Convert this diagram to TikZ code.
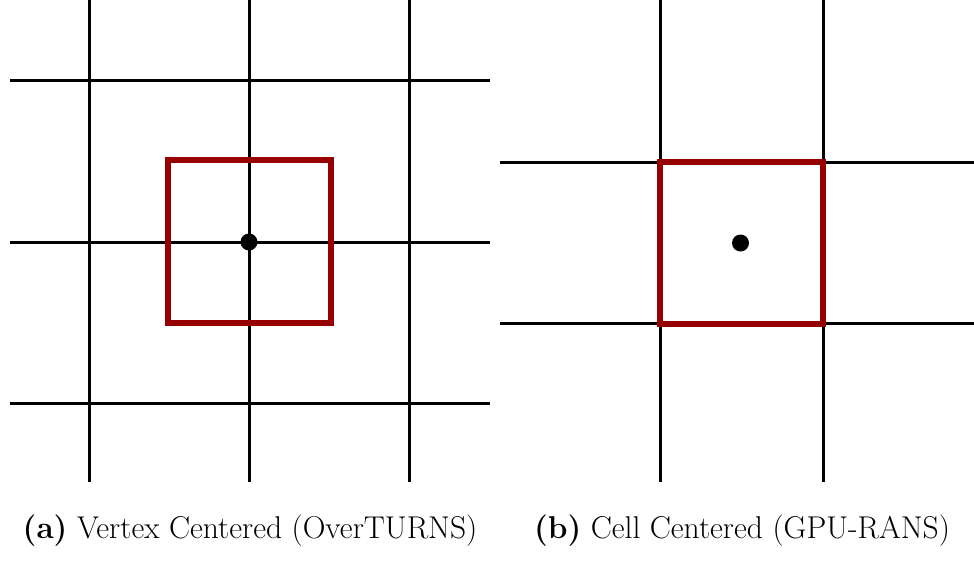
\documentclass[tikz,border=0pt]{standalone}
\usepackage{xcolor}
\definecolor{cvred}{RGB}{150,0,0}
\tikzset{
  gridline/.style={line width=3pt, black},
  cvbox/.style={line width=6pt, cvred, line join=miter},
  nodedot/.style={fill=black, draw=none},
  capt/.style={anchor=base, inner sep=0pt, font=\fontsize{31.5}{38}\selectfont}
}
\begin{document}
\begin{tikzpicture}[x=1pt,y=-1pt]
  \useasboundingbox (0,0) rectangle (974,560);

  % (a) vertex-centred grid
  \foreach \gx in {89,249,409} \draw[gridline] (\gx,0) -- (\gx,482);
  \foreach \gy in {80,242,403} \draw[gridline] (10,\gy) -- (490,\gy);
  \draw[cvbox] (167.5,160) rectangle (330.5,323);
  \fill[nodedot] (249,242) circle (8.5);
  \node[capt] (capa) at (250,538) {\textbf{(a)} Vertex Centered (OverTURNS)};

  % (b) cell-centred grid
  \foreach \gx in {660,823} \draw[gridline] (\gx,0) -- (\gx,482);
  \foreach \gy in {162,323} \draw[gridline] (500,\gy) -- (974,\gy);
  \draw[cvbox] (659.5,162) rectangle (823,323.5);
  \fill[nodedot] (740.5,243) circle (8.5);
  \node[capt] (capb) at (742,538) {\textbf{(b)} Cell Centered (GPU-RANS)};
\end{tikzpicture}
\end{document}
